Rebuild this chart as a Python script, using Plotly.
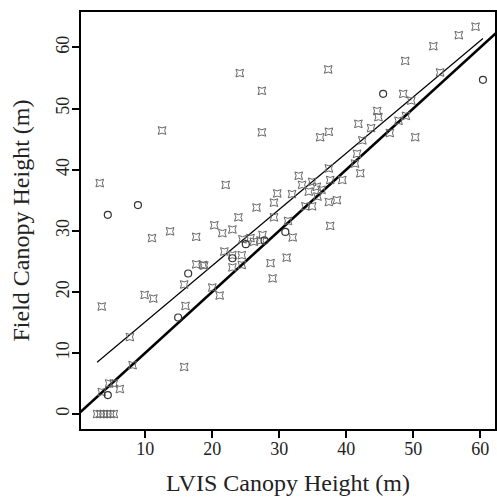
import plotly.graph_objects as go

# Plots with cross-shaped ("star square") markers
star_lvis = [59.3, 56.8, 53.0, 48.8, 37.3, 24.1, 27.4, 12.5, 27.4, 54.0,
             48.5, 49.7, 44.6, 44.8, 48.9, 47.8, 41.8, 43.7, 50.3, 46.5,
             37.4, 36.1, 42.4, 41.6, 41.3, 42.1, 37.4, 32.9, 33.4, 34.9,
             35.6, 34.4, 36.3, 37.6, 39.4, 29.7, 31.9, 29.2, 37.4, 38.6,
             34.9, 33.9, 26.6, 22.0, 23.9, 29.2, 31.3, 20.3, 21.5, 23.0,
             24.5, 25.7, 26.2, 27.2, 27.5, 32.0, 21.8, 23.0, 24.4, 23.0,
             24.4, 18.6, 28.7, 31.1, 29.0, 20.0, 37.6, 3.2, 11.0, 13.7,
             17.6, 17.6, 15.8, 9.9, 11.2, 3.5, 16.0, 21.1, 7.7, 8.1,
             15.8, 4.6, 5.3, 6.2, 3.5, 35.7, 18.8, 2.8, 3.3, 3.8,
             4.3, 4.8, 5.3]
star_field = [63.4, 62.0, 60.2, 57.8, 56.4, 55.8, 52.9, 46.4, 46.1, 55.9,
              52.4, 51.3, 49.6, 48.6, 48.8, 48.0, 47.5, 46.8, 45.3, 46.0,
              46.2, 45.3, 44.8, 42.6, 41.0, 39.4, 40.2, 39.0, 37.5, 38.0,
              37.2, 36.4, 36.7, 38.3, 38.3, 36.1, 36.0, 34.6, 34.7, 35.0,
              34.0, 34.0, 33.8, 37.5, 32.2, 32.2, 31.6, 30.9, 29.6, 30.2,
              28.6, 28.8, 28.2, 28.4, 29.3, 28.9, 26.6, 26.0, 26.0, 24.0,
              24.4, 24.4, 24.7, 25.6, 22.2, 20.7, 30.8, 37.8, 28.8, 29.9,
              29.0, 24.5, 21.2, 19.5, 18.9, 17.6, 17.7, 19.4, 12.6, 8.0,
              7.7, 5.0, 5.0, 4.1, 3.6, 35.6, 24.3, 0.0, 0.0, 0.0,
              0.0, 0.0, 0.0]

# Plots with open-circle markers
circ_lvis = [60.4, 45.5, 4.4, 8.9, 25.0, 27.8, 30.9, 23.0, 16.4, 14.9, 4.4]
circ_field = [54.7, 52.4, 32.6, 34.2, 27.8, 28.4, 29.8, 25.5, 23.0, 15.8, 3.1]

# Fitted regression (field = a + b * LVIS) and the 1:1 reference line
reg_intercept = 5.9
reg_slope = 0.92
one_to_one = [0, 70]

x_ticks = [10, 20, 30, 40, 50, 60]
y_ticks = [0, 10, 20, 30, 40, 50, 60]

all_x = star_lvis + circ_lvis
fit_x = [min(all_x), max(all_x)]
fit_y = [reg_intercept + reg_slope * v for v in fit_x]

fig = go.Figure()
fig.add_trace(go.Scatter(
    x=one_to_one, y=one_to_one, mode="lines",
    line=dict(color="black", width=2.6), hoverinfo="skip"))
fig.add_trace(go.Scatter(
    x=fit_x, y=fit_y, mode="lines",
    line=dict(color="black", width=1.2), hoverinfo="skip"))
fig.add_trace(go.Scatter(
    x=star_lvis, y=star_field, mode="markers",
    marker=dict(symbol="star-square-open", size=7, color="#666666",
                line=dict(width=1, color="#666666"))))
fig.add_trace(go.Scatter(
    x=circ_lvis, y=circ_field, mode="markers",
    marker=dict(symbol="circle-open", size=7, color="#333333",
                line=dict(width=1.2, color="#333333"))))

font_family = "Liberation Serif, Times New Roman, serif"
fig.update_layout(
    width=497, height=497,
    margin=dict(l=81, r=0, t=12, b=68),
    paper_bgcolor="white", plot_bgcolor="white",
    showlegend=False,
    font=dict(family=font_family, color="#222222"),
    xaxis=dict(
        range=[0.4, 62.2], tickvals=x_ticks, ticks="outside", ticklen=7,
        tickwidth=1.5, tickcolor="black", showgrid=False, zeroline=False,
        showline=True, mirror=True, linecolor="black", linewidth=2.4,
        ticklabelstandoff=-5,
        tickfont=dict(size=18, family=font_family),
        title=dict(text="LVIS Canopy Height (m)", standoff=16,
                   font=dict(size=24, family=font_family))),
    yaxis=dict(
        range=[-2.45, 65.8], tickvals=y_ticks, ticks="outside", ticklen=7,
        tickwidth=1.5, tickcolor="black", showgrid=False, zeroline=False,
        showline=True, mirror=True, linecolor="black", linewidth=2.4,
        tickangle=-90, ticklabelstandoff=-4,
        tickfont=dict(size=18, family=font_family),
        title=dict(text="Field Canopy Height (m)", standoff=16,
                   font=dict(size=24, family=font_family))),
)

fig.write_html("out.html")
